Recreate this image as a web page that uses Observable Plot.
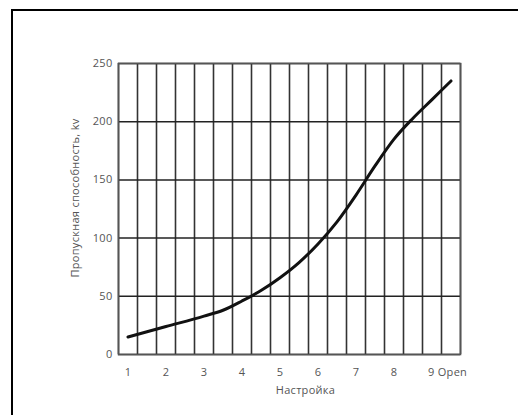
<!DOCTYPE html>
<html>
<head>
<meta charset="utf-8">
<script src="https://cdn.jsdelivr.net/npm/d3@7"></script>
<script src="https://cdn.jsdelivr.net/npm/@observablehq/plot@0.6"></script>
<style>
  html, body { margin: 0; padding: 0; background: #fff; overflow: hidden; }
  #wrap { position: relative; width: 518px; height: 415px; }
  #box { position: absolute; left: 11px; top: 9px; width: 520px; height: 420px;
         border-left: 2px solid #000; border-top: 2px solid #000; pointer-events: none; }
  #chart { position: absolute; left: 0; top: 0; }
  #chart svg text { letter-spacing: 0.3px; }
</style>
</head>
<body>
<div id="wrap"><div id="chart"></div><div id="box"></div></div>
<script>
// Data
const settings = [1, 2, 3, 3.5, 4, 4.5, 5, 5.5, 6, 6.5, 7, 7.5, 8, 8.5, 9, 9.5];
const kv       = [15, 24, 33, 38, 46, 55, 66, 79, 95, 114, 137, 162, 185, 203, 219, 235];
const xTicks = [1, 2, 3, 4, 5, 6, 7, 8];
const xLastTick = [9];
const xLastLabel = "9 Open";
const yTicks = [0, 50, 100, 150, 200, 250];
const xTitle = "Настройка";
const yTitle = "Пропускная способность, kv";

const data = settings.map((s, i) => ({setting: s, kv: kv[i]}));
const xGrid = d3.range(0, 19).map(k => 0.75 + k * 0.5);

const chart = Plot.plot({
  width: 518,
  height: 415,
  marginLeft: 118,
  marginRight: 58,
  marginTop: 63,
  marginBottom: 61,
  x: {domain: [0.75, 9.75]},
  y: {domain: [0, 250]},
  style: {fontFamily: "'Open Sans', sans-serif", fontSize: "11px", color: "#555", background: "transparent"},
  marks: [
    Plot.ruleX(xGrid, {stroke: "#333", strokeWidth: 1.6}),
    Plot.ruleY(yTicks, {stroke: "#222", strokeWidth: 1.5}),
    Plot.frame({stroke: "#555", strokeWidth: 1.6}),
    Plot.axisY(yTicks, {tickSize: 0, tickPadding: 6, label: null, fill: "#555", fontSize: 11}),
    Plot.axisX(xTicks, {tickSize: 0, tickPadding: 14, label: null, fill: "#555", fontSize: 11}),
    Plot.axisX(xLastTick, {tickSize: 0, tickPadding: 14, label: null, tickFormat: () => xLastLabel, textAnchor: "start", dx: -4, fill: "#555", fontSize: 11}),
    Plot.line(data, {x: "setting", y: "kv", curve: "monotone-x", stroke: "#111", strokeWidth: 3}),
    Plot.text([yTitle], {frameAnchor: "left", textAnchor: "middle", rotate: -90, dx: -43, dy: -11, fill: "#555", fontSize: 11}),
    Plot.text([xTitle], {frameAnchor: "bottom", dx: 16, dy: 39, fill: "#555", fontSize: 11})
  ]
});
document.getElementById("chart").appendChild(chart);
</script>
</body>
</html>
